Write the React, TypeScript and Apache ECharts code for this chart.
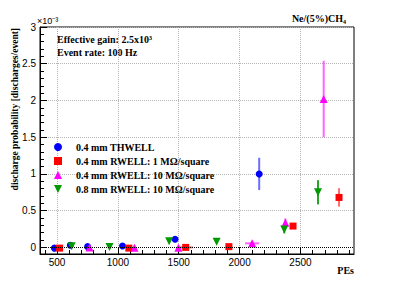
import React, { useEffect, useRef } from "react";
import * as echarts from "echarts";

// x: number of primary electrons (PEs); y: discharge probability in units of 1e-3
const thwellX = [478, 609, 751, 1038, 1470, 2161];
const thwellY = [-0.01, 0.03, 0.01, 0.02, 0.11, 1.0];
const thwellXErr = [0, 0, 0, 0, 0, 0];
const thwellYErr = [0, 0, 0, 0, 0, 0.22];

const rwell1X = [521, 1090, 1557, 1912, 2439, 2817];
const rwell1Y = [-0.01, -0.01, 0.0, 0.01, 0.29, 0.68];
const rwell1XErr = [0, 0, 60, 0, 0, 0];
const rwell1YErr = [0, 0, 0, 0, 0.03, 0.125];

const rwell10X = [767, 1136, 1497, 2103, 2376, 2691];
const rwell10Y = [0.0, -0.005, -0.005, 0.055, 0.335, 2.02];
const rwell10XErr = [0, 0, 0, 58, 0, 0];
const rwell10YErr = [0, 0, 0, 0, 0.06, 0.52];

const rwell08X = [620, 931, 1421, 1811, 2367, 2644];
const rwell08Y = [0.015, 0.005, 0.085, 0.076, 0.245, 0.75];
const rwell08XErr = [0, 0, 0, 0, 0, 0];
const rwell08YErr = [0, 0, 0, 0, 0.055, 0.165];

const seriesNames = [
  "0.4 mm THWELL",
  "0.4 mm RWELL: 1 MΩ/square",
  "0.4 mm RWELL: 10 MΩ/square",
  "0.8 mm RWELL: 10 MΩ/square",
];

const xMajorTicks = [500, 1000, 1500, 2000, 2500];
const xMinorTicks = [400, 500, 600, 700, 800, 900, 1000, 1100, 1200, 1300, 1400, 1500, 1600, 1700, 1800, 1900, 2000, 2100, 2200, 2300, 2400, 2500, 2600, 2700, 2800, 2900];
const yMajorTicks = [0, 0.5, 1, 1.5, 2, 2.5, 3];
const yMinorTicks = [0, 0.1, 0.2, 0.3, 0.4, 0.5, 0.6, 0.7, 0.8, 0.9, 1, 1.1, 1.2, 1.3, 1.4, 1.5, 1.6, 1.7, 1.8, 1.9, 2, 2.1, 2.2, 2.3, 2.4, 2.5, 2.6, 2.7, 2.8, 2.9, 3];

const X_MIN = 360;
const X_MAX = 2940;
const Y_MIN = -0.09;
const Y_MAX = 3;

const SERIF = "'Liberation Serif', 'Times New Roman', serif";
const SANS = "'Liberation Sans', Arial, sans-serif";

function zip(x: number[], y: number[], xe: number[], ye: number[]) {
  return x.map((v, i) => [v, y[i], xe[i], ye[i]]);
}

export default function App() {
  const ref = useRef<HTMLDivElement>(null);

  useEffect(() => {
    if (!ref.current) return;
    const chart = echarts.init(ref.current, undefined, { renderer: "svg" });

    const groups = [
      { name: seriesNames[0], data: zip(thwellX, thwellY, thwellXErr, thwellYErr), color: "#0000ff", err: "rgba(60,60,255,0.75)", symbol: "circle", size: 7 },
      { name: seriesNames[1], data: zip(rwell1X, rwell1Y, rwell1XErr, rwell1YErr), color: "#ff0000", err: "rgba(255,60,60,0.75)", symbol: "rect", size: 7 },
      { name: seriesNames[2], data: zip(rwell10X, rwell10Y, rwell10XErr, rwell10YErr), color: "#ff00ff", err: "rgba(255,60,255,0.8)", symbol: "triangle", size: 8 },
      { name: seriesNames[3], data: zip(rwell08X, rwell08Y, rwell08XErr, rwell08YErr), color: "#009900", err: "rgba(0,150,0,0.85)", symbol: "path://M0,0L10,0L5,10Z", size: 8 },
    ];

    const errSeries = groups.map((g) => ({
      type: "custom" as const,
      name: g.name + " err",
      xAxisIndex: 0,
      yAxisIndex: 0,
      z: 2,
      silent: true,
      data: g.data,
      encode: { x: 0, y: 1 },
      renderItem: (params: any, api: any) => {
        const x = api.value(0);
        const y = api.value(1);
        const xe = api.value(2);
        const ye = api.value(3);
        const children: any[] = [];
        if (ye > 0) {
          const p1 = api.coord([x, y - ye]);
          const p2 = api.coord([x, y + ye]);
          children.push({ type: "line", shape: { x1: p1[0], y1: p1[1], x2: p2[0], y2: p2[1] }, style: { stroke: g.err, lineWidth: 2 } });
        }
        if (xe > 0) {
          const p1 = api.coord([x - xe, y]);
          const p2 = api.coord([x + xe, y]);
          children.push({ type: "line", shape: { x1: p1[0], y1: p1[1], x2: p2[0], y2: p2[1] }, style: { stroke: g.err, lineWidth: 2 } });
        }
        return { type: "group", children };
      },
    }));

    const scatterSeries = groups.map((g, i) => ({
      type: "scatter" as const,
      name: g.name,
      xAxisIndex: 0,
      yAxisIndex: 0,
      z: 3,
      symbol: g.symbol,
      symbolSize: g.size,
      itemStyle: { color: g.color, opacity: 1 },
      data: g.data.map((d) => [d[0], d[1]]),
      ...(i === 0
        ? {
            markLine: {
              silent: true,
              symbol: "none",
              label: { show: false },
              lineStyle: { color: "#000", type: "dotted", width: 1 },
              data: [{ yAxis: 0 }],
            },
          }
        : {}),
    }));

    chart.setOption({
      animation: false,
      backgroundColor: "#ffffff",
      grid: {
        left: 40,
        right: 40,
        top: 27,
        bottom: 29,
        show: true,
        borderColor: "#000",
        borderWidth: 1,
        backgroundColor: "transparent",
      },
      legend: {
        data: seriesNames,
        orient: "vertical",
        left: 54,
        top: 142,
        itemWidth: 8,
        itemHeight: 8,
        itemGap: 4,
        padding: 0,
        selectedMode: false,
        textStyle: {
          fontFamily: SERIF,
          fontWeight: "bold",
          fontSize: 10,
          color: "#000",
          lineHeight: 10,
          padding: [0, 0, 0, 9],
        },
      },
      xAxis: [
        {
          type: "value",
          min: X_MIN,
          max: X_MAX,
          axisLine: { show: true, onZero: false, lineStyle: { color: "#000", width: 1 } },
          axisTick: { show: true, inside: true, length: 7, customValues: xMajorTicks, lineStyle: { color: "#000" } },
          axisLabel: { show: true, customValues: xMajorTicks, margin: 3, fontFamily: SANS, fontSize: 10, color: "#000", formatter: (v: number) => String(v) },
          splitLine: { show: true, lineStyle: { color: "#b4b4b4", type: "dotted", width: 1 } },
        },
        {
          type: "value",
          min: X_MIN,
          max: X_MAX,
          position: "bottom",
          axisLine: { show: false, onZero: false },
          axisTick: { show: true, inside: true, length: 4, customValues: xMinorTicks, lineStyle: { color: "#000" } },
          axisLabel: { show: false },
          splitLine: { show: false },
        },
      ],
      yAxis: [
        {
          type: "value",
          min: Y_MIN,
          max: Y_MAX,
          axisLine: { show: true, onZero: false, lineStyle: { color: "#000", width: 1 } },
          axisTick: { show: true, inside: true, length: 7, customValues: yMajorTicks, lineStyle: { color: "#000" } },
          axisLabel: { show: true, customValues: yMajorTicks, margin: 4, fontFamily: SANS, fontSize: 10, color: "#000", formatter: (v: number) => String(v) },
          splitLine: { show: true, lineStyle: { color: "#b4b4b4", type: "dotted", width: 1 } },
        },
        {
          type: "value",
          min: Y_MIN,
          max: Y_MAX,
          position: "left",
          axisLine: { show: false, onZero: false },
          axisTick: { show: true, inside: true, length: 4, customValues: yMinorTicks, lineStyle: { color: "#000" } },
          axisLabel: { show: false },
          splitLine: { show: false },
        },
      ],
      graphic: [
        {
          type: "text",
          left: 37,
          top: 16,
          style: { text: "×10⁻³", fontFamily: SANS, fontSize: 9, fill: "#000" },
        },
        {
          type: "text",
          x: 57,
          y: 39,
          style: { text: "Effective gain: 2.5x10³", fontFamily: SERIF, fontWeight: "bold", fontSize: 10, fill: "#000", verticalAlign: "middle", align: "left" },
        },
        {
          type: "text",
          x: 57,
          y: 52,
          style: { text: "Event rate: 100 Hz", fontFamily: SERIF, fontWeight: "bold", fontSize: 10, fill: "#000", verticalAlign: "middle", align: "left" },
        },
        {
          type: "text",
          x: 346,
          y: 18,
          style: { text: "Ne/(5%)CH₄", fontFamily: SERIF, fontWeight: "bold", fontSize: 10, fill: "#000", verticalAlign: "middle", align: "right" },
        },
        {
          type: "text",
          x: 354,
          y: 270,
          style: { text: "PEs", fontFamily: SERIF, fontWeight: "bold", fontSize: 10, fill: "#000", verticalAlign: "middle", align: "right" },
        },
        {
          type: "text",
          x: 15,
          y: 28,
          rotation: Math.PI / 2,
          style: { text: "discharge probability [discharges/event]", fontFamily: SERIF, fontWeight: "bold", fontSize: 9.5, fill: "#000", verticalAlign: "middle", align: "right" },
        },
      ],
      series: [...errSeries, ...scatterSeries],
    });

    return () => chart.dispose();
  }, []);

  return (
    <div
      ref={ref}
      style={{ position: "absolute", left: 0, top: 0, width: 394, height: 283, background: "#fff" }}
    />
  );
}
